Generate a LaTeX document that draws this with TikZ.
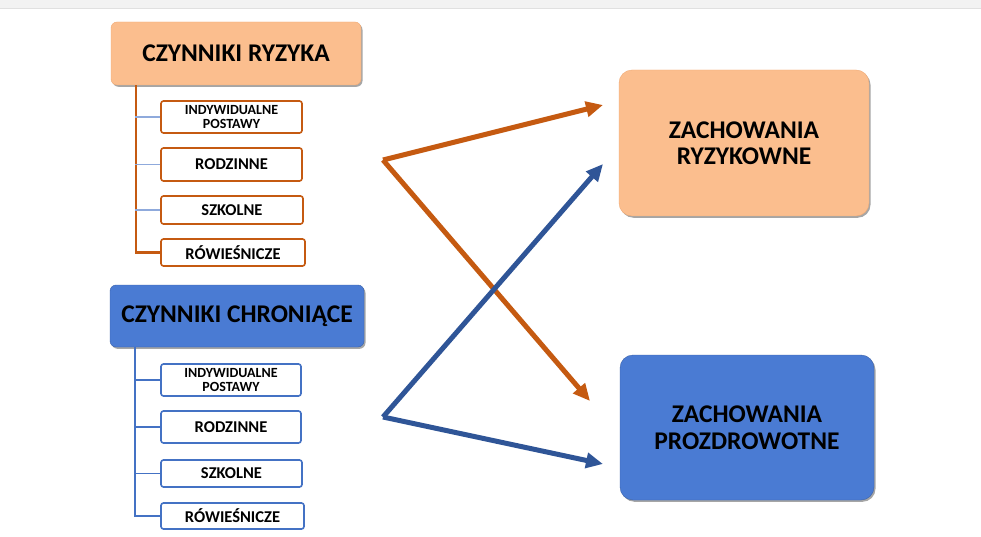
\documentclass[tikz,border=0pt]{standalone}
\usepackage{fontspec}
\setmainfont{Carlito}
\usetikzlibrary{positioning,arrows.meta,shadows}
\usepackage{xcolor}
\definecolor{riskfill}{HTML}{FBBE8E}
\definecolor{riskline}{HTML}{C55A11}
\definecolor{protfill}{HTML}{4A7BD3}
\definecolor{protline}{HTML}{2F5597}
\definecolor{twig}{HTML}{8FAADC}
\definecolor{protsub}{HTML}{4472C4}
\begin{document}
\begin{tikzpicture}[x=1pt,y=1pt,
  every node/.style={font=\bfseries},
  headbox/.style={rounded corners=6pt,minimum width=250pt,minimum height=63pt,font=\bfseries\fontsize{25.5}{27}\selectfont,drop shadow={shadow xshift=1.5pt,shadow yshift=-1.8pt,opacity=0.7}},
  outbox/.style={rounded corners=13pt,minimum width=250pt,minimum height=146pt,align=center,font=\bfseries\fontsize{25.5}{26.5}\selectfont,drop shadow={shadow xshift=1.5pt,shadow yshift=-1.8pt,opacity=0.7}},
  subbox/.style={draw,line width=1.6pt,fill=white,rounded corners=2.5pt,minimum width=141pt,inner ysep=1pt,align=center,font=\bfseries\fontsize{16.5}{17}\selectfont},
  smalltext/.style={font=\bfseries\fontsize{14}{14.5}\selectfont},
  stem/.style={line width=2.4pt},
  branch/.style={line width=1.1pt},
  bigarrow/.style={line width=5pt,-{Triangle[length=17pt,width=15pt]}}]
\useasboundingbox (0,0) rectangle (981,536);
\fill[black!5] (0,527) rectangle (981,536);
\draw[black!12,line width=1.5pt] (0,527.5) -- (981,527.5);
\node[headbox,fill=riskfill,draw=riskfill!80!riskline] (riskhead) at (236,482.5) {CZYNNIKI RYZYKA};
\node[subbox,draw=riskline,minimum height=32pt,smalltext] (risk1) at (231.5,419) {INDYWIDUALNE\\POSTAWY};
\node[subbox,draw=riskline,minimum height=33pt] (risk2) at (231.5,371.5) {RODZINNE};
\node[subbox,draw=riskline,minimum height=28pt,minimum width=142pt] (risk3) at (232,326) {SZKOLNE};
\node[subbox,draw=riskline,minimum height=27pt,minimum width=144pt] (risk4) at (233,283.5) {RÓWIEŚNICZE};
\draw[stem,riskline] ([xshift=25pt]riskhead.south west) |- (risk4.west);
\draw[branch,twig] (risk1.west) -- ++(-25,0);
\draw[branch,twig] (risk2.west) -- ++(-25,0);
\draw[branch,twig] (risk3.west) -- ++(-25,0);
\node[headbox,fill=protfill,draw=protfill!80!black,minimum width=254pt,minimum height=62pt] (prothead) at (237,220) {CZYNNIKI CHRONIĄCE};
\node[subbox,draw=protsub,minimum height=32pt,minimum width=140pt,smalltext] (prot1) at (231,156) {INDYWIDUALNE\\POSTAWY};
\node[subbox,draw=protsub,minimum height=32pt,minimum width=140pt] (prot2) at (231,109) {RODZINNE};
\node[subbox,draw=protsub,minimum height=27pt] (prot3) at (231.5,62.5) {SZKOLNE};
\node[subbox,draw=protsub,minimum height=26pt,minimum width=143pt] (prot4) at (232.5,20) {RÓWIEŚNICZE};
\draw[stem,protsub] ([xshift=25pt]prothead.south west) |- (prot4.west);
\draw[branch,protsub] (prot1.west) -- ++(-26,0);
\draw[branch,protsub] (prot2.west) -- ++(-26,0);
\draw[branch,protsub] (prot3.west) -- ++(-26,0);
\node[outbox,fill=riskfill,draw=riskfill!80!riskline] (riskout) at (744,393) {ZACHOWANIA\\RYZYKOWNE};
\node[outbox,fill=protfill,draw=protfill!80!black,minimum width=254pt,minimum height=145pt] (protout) at (747,108.5) {ZACHOWANIA\\PROZDROWOTNE};
\coordinate (riskfork) at (383,376);
\coordinate (protfork) at (383,119);
\coordinate (riskaim) at (603,431);
\coordinate (crossdown) at (590,135);
\coordinate (crossup) at (603,372);
\coordinate (protaim) at (603,72);
\draw[bigarrow,riskline] (riskfork) -- (riskaim);
\draw[bigarrow,riskline] (riskfork) -- (crossdown);
\draw[bigarrow,protline] (protfork) -- (crossup);
\draw[bigarrow,protline] (protfork) -- (protaim);
\end{tikzpicture}
\end{document}
